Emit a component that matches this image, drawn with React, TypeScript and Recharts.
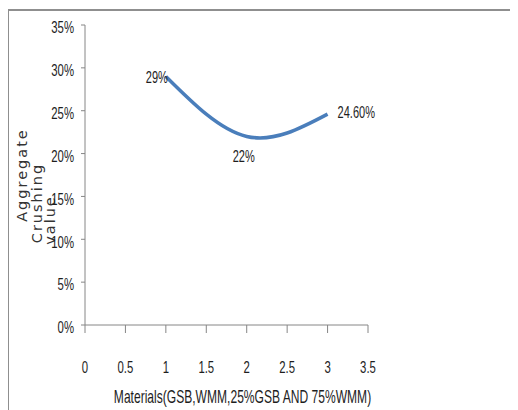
import React from 'react';
import { LineChart, Line, XAxis, YAxis, LabelList } from 'recharts';

const materials = [1, 2, 3];
const crushingValues = [0.29, 0.22, 0.246];
const valueLabels = ['29%', '22%', '24.60%'];
const xTicks = [0, 0.5, 1, 1.5, 2, 2.5, 3, 3.5];
const yTicks = [0, 0.05, 0.1, 0.15, 0.2, 0.25, 0.3, 0.35];
const xTitle = 'Materials(GSB,WMM,25%GSB AND 75%WMM)';
const yTitleLines = ['Aggregate', 'Crushing', 'value'];

const data = materials.map((m, i) => ({ x: m, y: crushingValues[i], label: valueLabels[i] }));

const FONT = "'Liberation Sans', Arial, sans-serif";
const SQUASH = 0.69;
const AXIS_COLOR = '#868686';
const TEXT_COLOR = '#1e1e1e';

const NarrowText = ({ x, y, anchor, size, children, baseline }: any) => (
  <text
    transform={`translate(${x},${y}) scale(${SQUASH},1)`}
    x={0}
    y={0}
    textAnchor={anchor}
    dominantBaseline={baseline || 'central'}
    fontFamily={FONT}
    fontSize={size}
    fill={TEXT_COLOR}
  >
    {children}
  </text>
);

const XTick = (props: any) => {
  const { x, y, payload } = props;
  return (
    <NarrowText x={x} y={y + 9.5} anchor="middle" size={16.5}>
      {String(payload.value)}
    </NarrowText>
  );
};

const YTick = (props: any) => {
  const { x, y, payload } = props;
  return (
    <NarrowText x={x} y={y + 2.5} anchor="end" size={16.5}>
      {`${Math.round(payload.value * 100)}%`}
    </NarrowText>
  );
};

const DataLabel = (props: any) => {
  const { x, y, index, value } = props;
  let tx = x;
  let ty = y;
  let anchor: 'start' | 'middle' | 'end' = 'middle';
  if (index === 0) {
    tx = x + 2;
    ty = y + 1;
    anchor = 'end';
  } else if (index === 1) {
    tx = x - 3;
    ty = y + 20;
  } else {
    tx = x + 10;
    ty = y - 1;
    anchor = 'start';
  }
  return (
    <NarrowText x={tx} y={ty} anchor={anchor} size={16}>
      {value}
    </NarrowText>
  );
};

const YTitle = (props: any) => {
  const vb = props.viewBox || { x: 0, y: 17, width: 77, height: 300 };
  const offsets = [
    { dx: 14, dy: 150 },
    { dx: 29, dy: 178 },
    { dx: 42, dy: 195 },
  ];
  return (
    <g>
      {yTitleLines.map((line, i) => {
        const cx = vb.x + offsets[i].dx;
        const cy = vb.y + offsets[i].dy;
        return (
          <text
            key={line}
            x={cx}
            y={cy}
            transform={`rotate(-90 ${cx} ${cy})`}
            textAnchor="middle"
            dominantBaseline="central"
            fontFamily="'DejaVu Sans', sans-serif"
            fontSize={14.5}
            letterSpacing={2}
            fill="#333333"
          >
            {line}
          </text>
        );
      })}
    </g>
  );
};

const XTitle = (props: any) => {
  const vb = props.viewBox || { x: 77, y: 317, width: 283, height: 85 };
  const cx = vb.x + vb.width / 2 + 16;
  const cy = vb.y + 71.5;
  return (
    <NarrowText x={cx} y={cy} anchor="middle" size={17.5}>
      {xTitle}
    </NarrowText>
  );
};

export default function App() {
  return (
    <div style={{ position: 'relative', width: 510, height: 402 }}>
      <div
        style={{
          position: 'absolute',
          top: 1,
          left: -1,
          right: -2,
          bottom: -2,
          borderTop: '2px solid #8f8f8f',
          borderLeft: '2px solid #8f8f8f',
        }}
      />
      <div style={{ position: 'absolute', top: 0, left: 0 }}>
        <LineChart width={510} height={402} data={data} margin={{ top: 17, right: 150, bottom: 0, left: 0 }}>
          <XAxis
            dataKey="x"
            type="number"
            domain={[0, 3.5]}
            ticks={xTicks}
            interval={0}
            height={85}
            tickSize={8}
            tickMargin={25}
            axisLine={{ stroke: AXIS_COLOR }}
            tickLine={{ stroke: AXIS_COLOR }}
            tick={<XTick />}
            label={<XTitle />}
          />
          <YAxis
            type="number"
            domain={[0, 0.35]}
            ticks={yTicks}
            interval={0}
            width={77}
            tickSize={4}
            tickMargin={7}
            axisLine={{ stroke: AXIS_COLOR }}
            tickLine={{ stroke: AXIS_COLOR }}
            tick={<YTick />}
            label={<YTitle />}
          />
          <Line
            type="natural"
            dataKey="y"
            stroke="#4a7ebb"
            strokeWidth={3.5}
            dot={false}
            activeDot={false}
            isAnimationActive={false}
          >
            <LabelList dataKey="label" content={<DataLabel />} />
          </Line>
        </LineChart>
      </div>
    </div>
  );
}
